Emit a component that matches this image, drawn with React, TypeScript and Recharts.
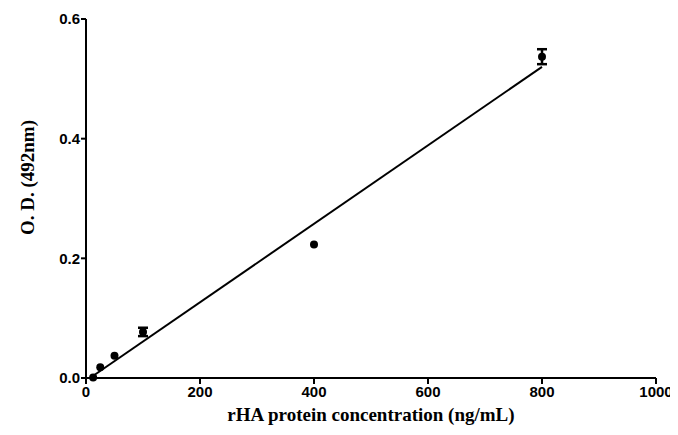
import { ScatterChart, Scatter, XAxis, YAxis, ErrorBar } from "recharts";

// concentration (ng/mL), O.D. at 492nm, SD (null = bar hidden behind the dot)
const conc = [12.5, 25, 50, 100, 400, 800];
const od = [0.001, 0.018, 0.037, 0.077, 0.223, 0.537];
const sd = [null, null, null, 0.007, null, 0.0125];

// linear fit endpoints
const fitX = [7, 800];
const fitY = [0, 0.52];

const xTicks = [0, 200, 400, 600, 800, 1000];
const yTicks = [0, 0.2, 0.4, 0.6];

const points = conc.map((c, i) => ({ x: c, y: od[i], err: sd[i] }));
const fitLine = fitX.map((x, i) => ({ x, y: fitY[i] }));

const SERIF = "Liberation Serif, Times New Roman, serif";

const css = `
.od-chart .recharts-cartesian-axis-tick-value {
  font-family: "Liberation Sans", Arial, sans-serif;
  font-weight: bold;
  font-size: 15px;
  fill: #000;
}
`;

export default function App() {
  return (
    <div className="od-chart" style={{ width: 670, height: 420 }}>
      <style>{css}</style>
      <ScatterChart width={670} height={420} margin={{ top: 11, right: 22, left: 0, bottom: 0 }}>
        <XAxis
          type="number"
          dataKey="x"
          domain={[0, 1000]}
          ticks={xTicks}
          tickSize={6}
          tickMargin={2}
          height={50}
          axisLine={{ stroke: "#000", strokeWidth: 2 }}
          tickLine={{ stroke: "#000", strokeWidth: 2 }}
          label={{
            content: ({ viewBox }: any) => (
              <text x={viewBox.x + viewBox.width / 2} y={viewBox.y + 43} textAnchor="middle" fontFamily={SERIF} fontWeight="bold" fontSize={19} fill="#000">
                rHA protein concentration (ng/mL)
              </text>
            ),
          }}
        />
        <YAxis
          type="number"
          dataKey="y"
          domain={[0, 0.6]}
          ticks={yTicks}
          tickFormatter={(v: number) => v.toFixed(1)}
          tickSize={5}
          tickMargin={1}
          width={78}
          axisLine={{ stroke: "#000", strokeWidth: 2 }}
          tickLine={{ stroke: "#000", strokeWidth: 2 }}
          label={{
            content: ({ viewBox }: any) => {
              const cx = viewBox.x + 19;
              const cy = viewBox.y + viewBox.height / 2 - 21;
              return (
                <text x={cx} y={cy} textAnchor="middle" dominantBaseline="central" transform={`rotate(-90, ${cx}, ${cy})`} fontFamily={SERIF} fontWeight="bold" fontSize={19} fill="#000">
                  O. D. (492nm)
                </text>
              );
            },
          }}
        />
        <Scatter
          data={fitLine}
          line={{ stroke: "#000", strokeWidth: 2 }}
          shape={() => <g />}
          isAnimationActive={false}
        />
        <Scatter
          data={points}
          fill="#000"
          shape={(p: any) => <circle cx={p.cx} cy={p.cy} r={4} fill="#000" />}
          isAnimationActive={false}
        >
          <ErrorBar dataKey="err" direction="y" width={5} stroke="#000" strokeWidth={2.5} />
        </Scatter>
      </ScatterChart>
    </div>
  );
}
